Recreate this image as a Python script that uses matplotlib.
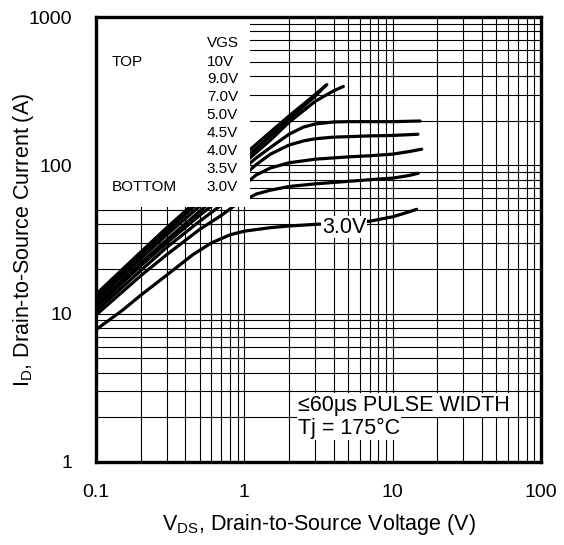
import matplotlib
matplotlib.use('Agg')
import matplotlib.pyplot as plt
from matplotlib.patches import Rectangle

plt.rcParams['font.family'] = ['Liberation Sans', 'DejaVu Sans']

# typical output characteristics, Tj = 175C
vds_10v = [0.1, 0.2, 0.3, 0.5, 0.7, 1.0, 1.5, 2.0, 3.0, 3.6]
id_10v = [13.5, 26, 38, 60, 83, 118, 168, 215, 300, 350]

vds_9v = [0.1, 0.2, 0.3, 0.5, 0.7, 1.0, 1.5, 2.0, 3.0, 3.5]
id_9v = [12.8, 25, 36, 57, 78, 110, 158, 205, 292, 342]

vds_7v = [0.1, 0.2, 0.3, 0.5, 0.7, 1.0, 1.5, 2.0, 3.0, 4.0, 4.65]
id_7v = [12.2, 23.5, 34, 53, 72, 104, 148, 195, 270, 318, 340]

vds_5v = [0.1, 0.2, 0.3, 0.5, 0.7, 1.0, 1.2, 1.5, 2.0, 2.5, 3.0, 4.0, 5.0, 7.0, 10.0, 15.3]
id_5v = [11.5, 22, 31.5, 49, 65, 96, 112, 132, 162, 181, 190, 196, 197, 197, 197, 199]

vds_4v5 = [0.1, 0.2, 0.3, 0.5, 0.7, 1.0, 1.2, 1.5, 2.0, 2.5, 3.0, 4.0, 5.0, 7.0, 10.0, 14.8]
id_4v5 = [11.0, 21, 30, 46, 60, 86, 101, 119, 137, 146, 151, 155, 156, 158, 159, 162]

vds_4v = [0.1, 0.2, 0.3, 0.5, 0.7, 1.0, 1.2, 1.5, 2.0, 3.0, 5.0, 7.0, 10.0, 13.0, 15.7]
id_4v = [10.4, 19.5, 28, 42, 54, 74, 86, 96, 104, 110, 114, 116, 119, 124, 128.5]

vds_3v5 = [0.1, 0.2, 0.3, 0.5, 0.7, 0.85, 1.0, 1.2, 1.5, 2.0, 3.0, 5.0, 7.0, 10.0, 13.0, 14.9]
id_3v5 = [9.8, 18, 25, 37, 46, 53, 58, 64, 68, 72, 75, 78, 80, 82, 85.5, 88.5]

vds_3v = [0.1, 0.15, 0.2, 0.3, 0.45, 0.6, 0.8, 1.0, 1.5, 2.0, 3.0, 5.0, 7.0, 10.0, 12.0, 14.5]
id_3v = [7.8, 10.5, 13.3, 18.2, 25, 30, 34, 36, 38, 39, 40, 41, 42, 45, 47.5, 50.5]

curves = [(vds_10v, id_10v), (vds_9v, id_9v), (vds_7v, id_7v), (vds_5v, id_5v),
          (vds_4v5, id_4v5), (vds_4v, id_4v), (vds_3v5, id_3v5), (vds_3v, id_3v)]

vgs_labels = ['10V', '9.0V', '7.0V', '5.0V', '4.5V', '4.0V', '3.5V', '3.0V']

x_ticks = [0.1, 1, 10, 100]
x_tick_labels = ['0.1', '1', '10', '100']
y_ticks = [1, 10, 100, 1000]
y_tick_labels = ['1', '10', '100', '1000']

fig = plt.figure(figsize=(5.64, 5.45), dpi=100)
ax = fig.add_axes([96 / 564, 83 / 545, 445 / 564, 445 / 545])

for vds, cur in curves:
    ax.plot(vds, cur, color='black', lw=2.3, solid_capstyle='round', zorder=2)

ax.set_xscale('log')
ax.set_yscale('log')
ax.set_xlim(0.1, 100)
ax.set_ylim(1, 1000)
ax.set_xticks(x_ticks, labels=x_tick_labels)
ax.set_yticks(y_ticks, labels=y_tick_labels)
ax.grid(True, which='both', color='black', lw=0.8)
ax.set_axisbelow(True)
ax.tick_params(which='both', length=0, labelsize=14)
ax.tick_params(axis='x', pad=16)
ax.tick_params(axis='y', pad=17)

for sp in ax.spines.values():
    sp.set_linewidth(2.4)
    sp.set_zorder(6)

# white legend block in the top-left corner
ax.add_patch(Rectangle((0, 0.574), 0.346, 0.426, transform=ax.transAxes,
                       facecolor='white', edgecolor='none', zorder=4))
ax.text(0.035, 0.900, 'TOP', transform=ax.transAxes, fontsize=11, va='center', zorder=5)
ax.text(0.035, 0.619, 'BOTTOM', transform=ax.transAxes, fontsize=11, va='center', zorder=5)
ax.text(0.249, 0.942, 'VGS', transform=ax.transAxes, fontsize=11, va='center', zorder=5)
for i, lab in enumerate(vgs_labels):
    ax.text(0.249, 0.900 - i * 0.0402, lab, transform=ax.transAxes, fontsize=11,
            va='center', zorder=5)

ax.text(4.7, 38.3, '3.0V', fontsize=15.5, ha='center', va='center', zorder=5,
        bbox=dict(facecolor='white', edgecolor='none', pad=0.5))

ax.text(0.454, 0.128, '\u226460\u03bcs PULSE WIDTH', transform=ax.transAxes, fontsize=15.5,
        va='center', zorder=5, bbox=dict(facecolor='white', edgecolor='none', pad=1))
ax.text(0.454, 0.076, 'Tj = 175\u00b0C', transform=ax.transAxes, fontsize=15.5,
        va='center', zorder=5, bbox=dict(facecolor='white', edgecolor='none', pad=1))

ax.set_xlabel(r'V$_\mathregular{DS}$, Drain-to-Source Voltage (V)', fontsize=15.5)
ax.set_ylabel(r'I$_\mathregular{D}$, Drain-to-Source Current (A)', fontsize=15.5)
ax.xaxis.set_label_coords(0.5, -0.112)
ax.yaxis.set_label_coords(-0.135, 0.5)

fig.savefig('out.png', dpi=100)
